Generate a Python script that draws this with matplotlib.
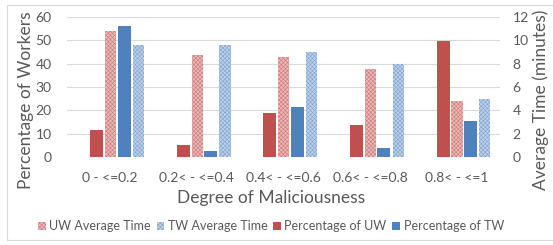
import matplotlib.pyplot as plt
import numpy as np
from matplotlib.patches import Rectangle

plt.rcParams['font.family'] = ['Lato', 'DejaVu Sans']
plt.rcParams['hatch.linewidth'] = 0.4

categories = ['0 - <=0.2', '0.2< - <=0.4', '0.4< - <=0.6', '0.6< - <=0.8', '0.8< - <=1']
pct_uw = [11.4, 5.3, 19.0, 13.6, 49.8]
pct_tw = [56.1, 2.6, 21.3, 3.7, 15.6]
time_uw = [10.8, 8.7, 8.6, 7.5, 4.8]
time_tw = [9.6, 9.6, 9.0, 8.0, 5.0]

red = '#C0504D'
blue = '#4F81BD'
grey = '#595959'

fig = plt.figure(figsize=(5.53, 2.45), dpi=100)
fig.patches.append(Rectangle((0.012, 0.02), 1.2, 0.96, transform=fig.transFigure,
                             fill=False, edgecolor='#d9d9d9', linewidth=0.8))
ax = fig.add_axes([0.121, 0.359, 0.783, 0.572])
ax2 = ax.twinx()

x = np.arange(len(categories))
w = 0.15
wh = 0.13
ax.bar(x - 0.155, pct_uw, w, color=red, label='Percentage of UW', zorder=3)
ax.bar(x + 0.16, pct_tw, w, color=blue, label='Percentage of TW', zorder=3)
ax2.bar(x + 0.005, time_uw, wh, facecolor='#e9b8b7', edgecolor='#d07876', hatch='xxxxxxxx',
        linewidth=0, label='UW Average Time')
ax2.bar(x + 0.325, time_tw, wh, facecolor='#bcd0ea', edgecolor='#7fa2d0', hatch='xxxxxxxx',
        linewidth=0, label='TW Average Time')

ax.set_xlim(-0.5, 4.5)
ax.set_ylim(0, 60)
ax2.set_ylim(0, 12)
ax.set_yticks(range(0, 61, 10))
ax2.set_yticks(range(0, 13, 2))
ax.set_xticks(x)
ax.set_xticklabels(categories)
ax.yaxis.grid(True, color='#d9d9d9', linewidth=0.8, zorder=0)
ax.set_axisbelow(True)
for a in (ax, ax2):
    for s in a.spines.values():
        s.set_visible(False)
    a.tick_params(length=0, labelsize=10, colors=grey)
ax.tick_params(axis='y', pad=11)
ax2.tick_params(axis='y', pad=9)
ax.tick_params(axis='x', pad=11)

fig.text(0.49, 1 - 198 / 245, 'Degree of Maliciousness', fontsize=12.5, color=grey,
         ha='center', va='center')
fig.text(26 / 553, 1 - 100 / 245, 'Percentage of Workers', fontsize=12.5, color=grey,
         ha='center', va='center', rotation=90)
fig.text(541 / 553, 1 - 100 / 245, 'Average Time (minutes)', fontsize=12.5, color=grey,
         ha='center', va='center', rotation=90)

h1, l1 = ax.get_legend_handles_labels()
h2, l2 = ax2.get_legend_handles_labels()
fig.legend(h2 + h1, l2 + l1, loc='center', bbox_to_anchor=(0.49, 0.077), ncol=4,
           frameon=False, fontsize=9, labelcolor=grey, handlelength=0.6,
           handleheight=0.6, handletextpad=0.3, columnspacing=0.45)

fig.savefig('out.png', dpi=100)
